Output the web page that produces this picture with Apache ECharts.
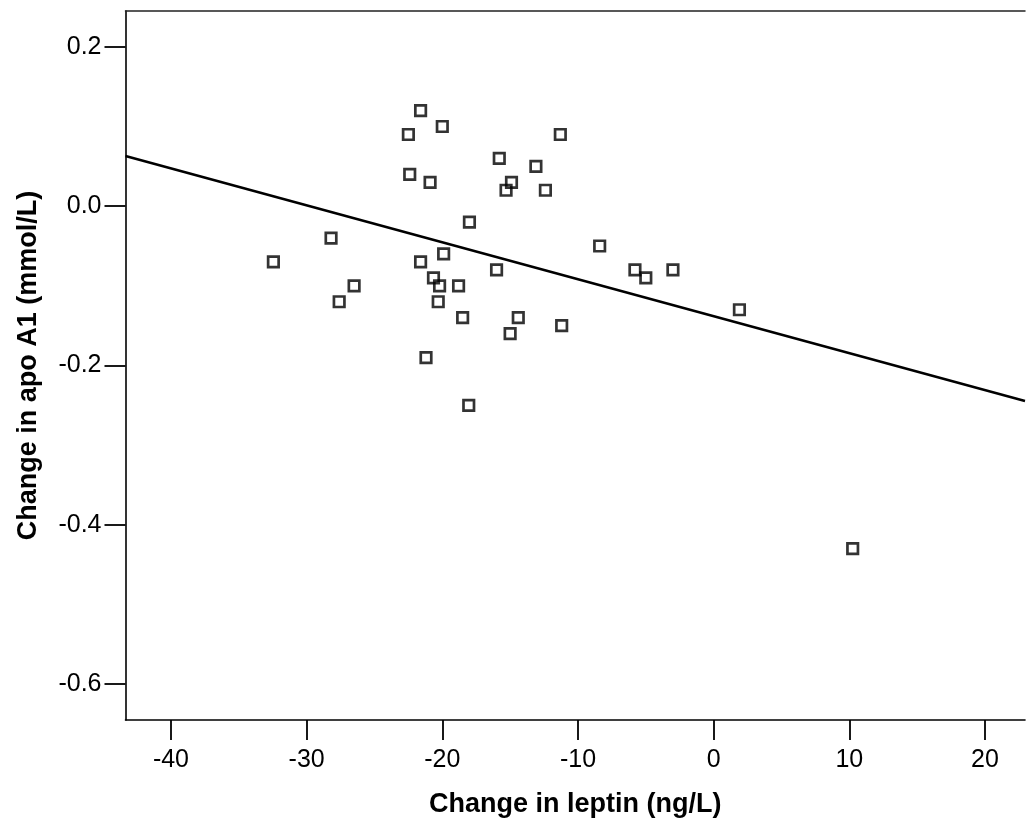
<!DOCTYPE html>
<html>
<head>
<meta charset="utf-8">
<script src="https://cdn.jsdelivr.net/npm/echarts@6/dist/echarts.min.js"></script>
<style>
  html, body { margin: 0; padding: 0; background: #fff; }
  #chart { width: 1026px; height: 825px; }
</style>
</head>
<body>
<div id="chart"></div>
<script>
// Change in leptin (ng/L) for each subject
const leptinChange = [-32.45, -28.2, -27.6, -26.5, -22.5, -21.6, -22.4, -20.0, -20.9, -21.6,
  -21.2, -20.65, -20.2, -20.3, -19.9, -18.8, -18.5, -18.0, -18.05, -15.8,
  -16.0, -14.9, -15.3, -15.0, -14.4, -13.1, -12.4, -11.3, -11.2, -8.4,
  -5.8, -5.0, -3.0, 1.9, 10.25];
// Change in apo A1 (mmol/L) for each subject
const apoA1Change = [-0.07, -0.04, -0.12, -0.10, 0.09, 0.12, 0.04, 0.10, 0.03, -0.07,
  -0.19, -0.09, -0.10, -0.12, -0.06, -0.10, -0.14, -0.02, -0.25, 0.06,
  -0.08, 0.03, 0.02, -0.16, -0.14, 0.05, 0.02, 0.09, -0.15, -0.05,
  -0.08, -0.09, -0.08, -0.13, -0.43];
// Fitted regression line end points
const fitX = [-43.35, 22.95];
const fitY = [0.063, -0.2445];
// Tick values
const xTicks = [-40, -30, -20, -10, 0, 10, 20];
const yTicks = [-0.6, -0.4, -0.2, 0.0, 0.2];
const xRange = [-43.35, 22.95];
const yRange = [-0.645, 0.245];

const FONT = '"Liberation Sans", Arial, Helvetica, sans-serif';

const chart = echarts.init(document.getElementById('chart'), null, { renderer: 'canvas' });

const scatterData = leptinChange.map((x, i) => [x, apoA1Change[i]]);
const lineData = fitX.map((x, i) => [x, fitY[i]]);

chart.setOption({
  backgroundColor: '#ffffff',
  animation: false,
  grid: { left: 125.5, top: 11, right: 1, bottom: 105, containLabel: false },
  xAxis: [{
    type: 'value',
    position: 'bottom',
    min: xRange[0], max: xRange[1],
    name: 'Change in leptin (ng/L)',
    nameLocation: 'middle',
    nameGap: 71,
    nameTextStyle: { fontFamily: FONT, fontWeight: 'bold', fontSize: 27, color: '#000' },
    axisLine: { show: true, onZero: false, lineStyle: { color: '#000', width: 1.6 } },
    axisTick: { show: true, inside: false, length: 20, customValues: xTicks, lineStyle: { color: '#000', width: 1.8 } },
    axisLabel: { show: true, margin: 28, customValues: xTicks, fontFamily: FONT, fontSize: 25, color: '#000',
      formatter: v => String(v) },
    splitLine: { show: false }
  }, {
    type: 'value',
    position: 'top',
    min: xRange[0], max: xRange[1],
    axisLine: { show: true, onZero: false, lineStyle: { color: '#222', width: 1.5 } },
    axisTick: { show: false },
    axisLabel: { show: false },
    splitLine: { show: false }
  }],
  yAxis: {
    type: 'value',
    min: yRange[0], max: yRange[1],
    name: 'Change in apo A1 (mmol/L)',
    nameLocation: 'middle',
    nameRotate: 90,
    nameGap: 83,
    nameTextStyle: { fontFamily: FONT, fontWeight: 'bold', fontSize: 27, color: '#000' },
    axisLine: { show: true, onZero: false, lineStyle: { color: '#000', width: 1.6 } },
    axisTick: { show: true, inside: false, length: 21, customValues: yTicks, lineStyle: { color: '#000', width: 1.8 } },
    axisLabel: { show: true, margin: 24, customValues: yTicks, fontFamily: FONT, fontSize: 25, color: '#000',
      formatter: v => v.toFixed(1) },
    splitLine: { show: false }
  },
  series: [{
    type: 'line',
    data: lineData,
    showSymbol: false,
    symbol: 'none',
    lineStyle: { color: '#000', width: 2.5 },
    silent: true,
    z: 2
  }, {
    type: 'scatter',
    data: scatterData,
    symbol: 'rect',
    symbolSize: 10.5,
    itemStyle: { color: 'rgba(255,255,255,0)', borderColor: '#000', borderWidth: 2.7 },
    z: 3
  }]
});
</script>
</body>
</html>
